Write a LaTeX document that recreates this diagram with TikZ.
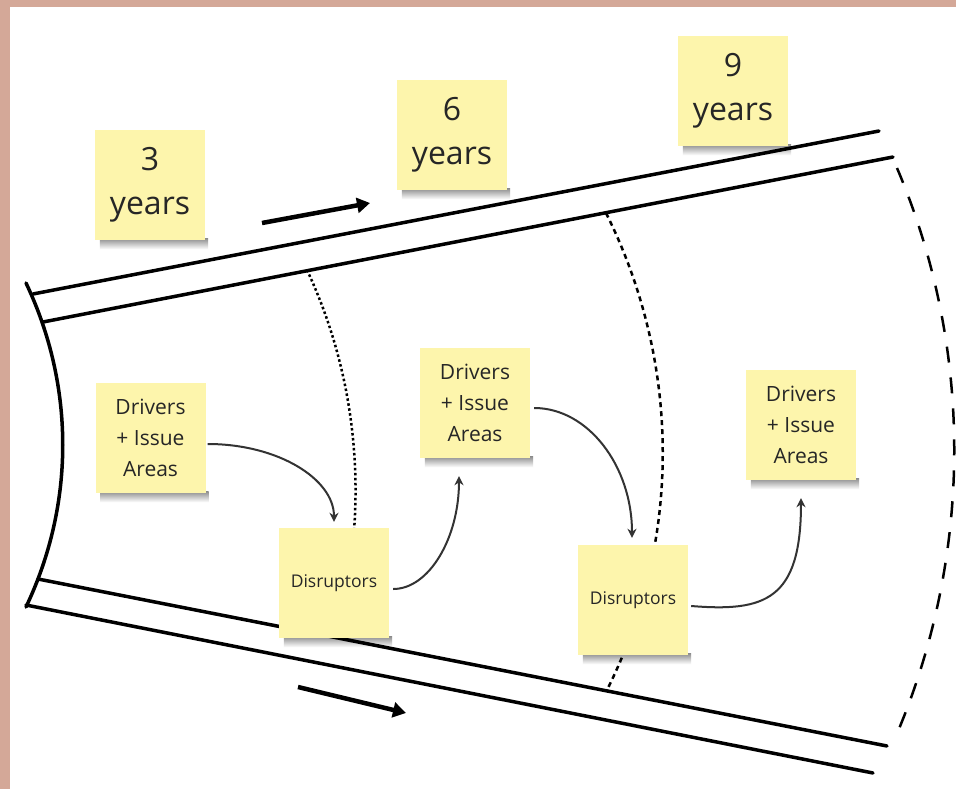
\documentclass[tikz,border=0pt]{standalone}
\usepackage{fontspec}
\setmainfont{Open Sans}
\usetikzlibrary{arrows.meta}
\definecolor{frame}{HTML}{D4A898}
\definecolor{sticky}{HTML}{FDF5AC}
\definecolor{ink}{HTML}{333333}
\pgfdeclarelayer{bg}
\pgfsetlayers{bg,main}
\begin{document}
\begin{tikzpicture}[x=1pt,y=-1pt,
  note/.style={fill=sticky, minimum width=110pt, minimum height=110pt, inner sep=0pt, align=center, text=black!85},
  big/.style={font=\fontsize{32}{44}\selectfont},
  mid/.style={font=\fontsize{21}{31}\selectfont},
  small/.style={font=\fontsize{17.5}{21}\selectfont},
  road/.style={line width=3.5pt, line cap=round},
  flow/.style={draw=ink, line width=2pt, -{Stealth[length=9pt,width=9pt]}},
  bigarrow/.style={line width=4.5pt, -{Triangle[length=13pt,width=15pt]}},
  nshadow/.style={top color=black!45, bottom color=white},
]
\useasboundingbox (0,0) rectangle (956,789);
\begin{pgfonlayer}{bg}
\fill[white] (0,0) rectangle (956,789);
\end{pgfonlayer}
\fill[frame] (0,0) rectangle (956,7);
\fill[frame] (0,0) rectangle (10,789);

% road
\draw[road] (26,283) .. controls (75,386) and (75,504) .. (26,607);
\draw[road] (33,294) -- (879,131);
\draw[road] (43,322) -- (893,157);
\draw[road] (38,579) -- (887,746);
\draw[road] (26,605) -- (873,773);

% time horizons
\draw[line width=2.5pt, dash pattern=on 2.5pt off 2.5pt] (307,270) .. controls (360,383) and (370,515) .. (335,637);
\draw[line width=2.5pt, dash pattern=on 5pt off 4pt] (606,213) .. controls (681,363) and (682,540) .. (607,690);
\draw[line width=2.5pt, dash pattern=on 16pt off 15pt] (897,168) .. controls (974,349) and (973,555) .. (896,736);

% notes
\node[note,big] (y3) at (150,185) {3\\years};
\node[note,big] (y6) at (452,135) {6\\years};
\node[note,big] (y9) at (733,91) {9\\years};
\node[note,mid] (d1) at (150.5,438) {Drivers\\+ Issue\\Areas};
\node[note,small] (r1) at (334,583) {Disruptors};
\node[note,mid] (d2) at (475,403) {Drivers\\+ Issue\\Areas};
\node[note,small] (r2) at (633,600) {Disruptors};
\node[note,mid] (d3) at (801,425) {Drivers\\+ Issue\\Areas};

\begin{pgfonlayer}{bg}
\foreach \n in {y3,y6,y9,d1,r1,d2,r2,d3}{
  \shade[nshadow] ([xshift=5pt,yshift=2pt]\n.south west) rectangle ([xshift=3pt,yshift=-9pt]\n.south east);
}
\end{pgfonlayer}

% direction arrows
\coordinate (a1s) at (262,223);
\coordinate (a1e) at (370,203);
\coordinate (a2s) at (298,687);
\coordinate (a2e) at (406,713);
\draw[bigarrow] (a1s) -- (a1e);
\draw[bigarrow] (a2s) -- (a2e);

% flow connectors
\draw[flow] ([xshift=2pt,yshift=-6pt]d1.east) .. controls (278,444) and (334,479) .. ([yshift=6pt]r1.north);
\draw[flow] ([xshift=4pt,yshift=-6pt]r1.east) .. controls (429,589) and (459,538) .. ([xshift=-16pt,yshift=-18pt]d2.south);
\draw[flow] ([xshift=4pt,yshift=-5pt]d2.east) .. controls (588,408) and (632,466) .. ([xshift=-1pt,yshift=7pt]r2.north);
\draw[flow] ([xshift=3pt,yshift=-6pt]r2.east) .. controls (765,612) and (801,600) .. ([yshift=-18pt]d3.south);
\end{tikzpicture}
\end{document}
